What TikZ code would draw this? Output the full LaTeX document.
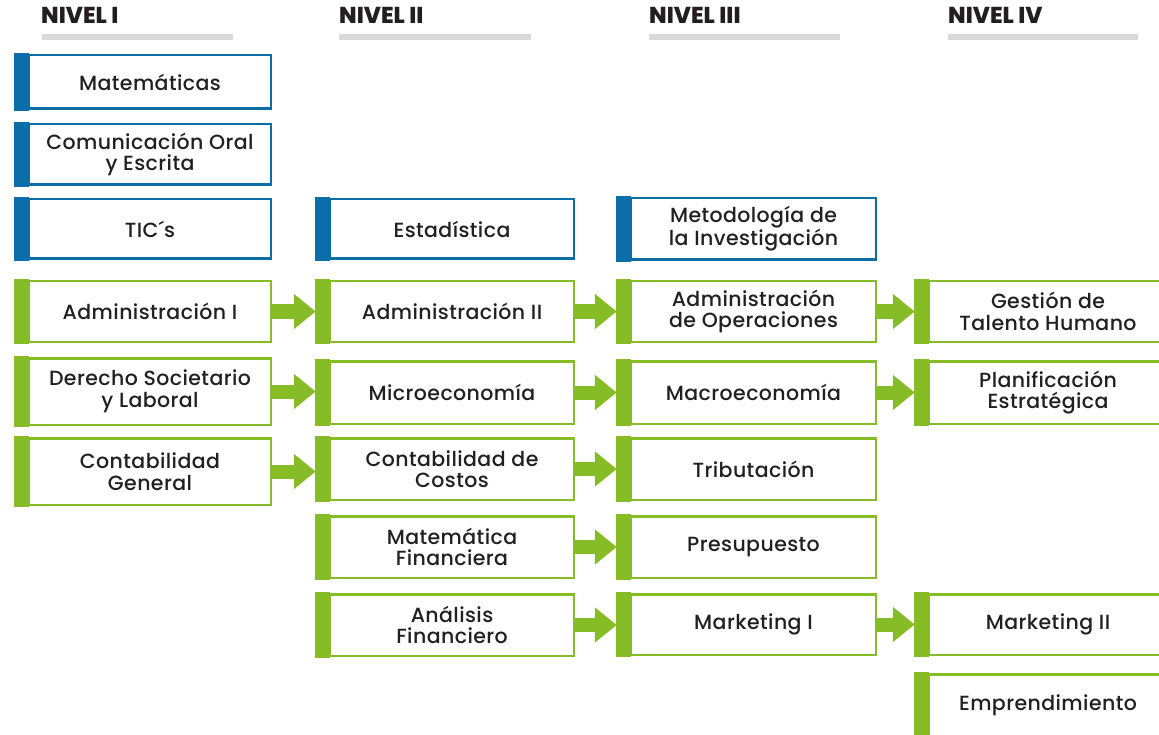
\documentclass[tikz,border=0pt]{standalone}
\usepackage{fontspec}
\setmainfont{Poppins Medium}[LetterSpace=2]
\newfontfamily\hdrfont{Poppins ExtraBold}
\usetikzlibrary{arrows.meta,calc}
\definecolor{cblue}{HTML}{0A6FA8}
\definecolor{cgreen}{HTML}{86BC25}
\definecolor{cgray}{HTML}{D9D9D9}
\definecolor{ctext}{HTML}{231F20}
\begin{document}
\begin{tikzpicture}[x=1pt,y=-1pt,
  subj/.style={draw, line width=2.5pt, fill=white, align=center, inner sep=0pt,
    text=ctext, font=\fontsize{20.5}{21.5}\selectfont},
  bsubj/.style={subj, draw=cblue},
  gsubj/.style={subj, draw=cgreen},
  c1/.style={minimum width=242pt},
  c2/.style={minimum width=244pt},
  c3/.style={minimum width=245pt},
  c4/.style={minimum width=238pt},
  hdr/.style={anchor=base west, inner sep=0pt, text=ctext, font=\hdrfont\fontsize{23}{24}\selectfont},
  garrow/.style={draw=cgreen, line width=14pt, -{Triangle[width=34pt,length=22pt]}}
]
\useasboundingbox (0,0) rectangle (1159,735);
\clip (0,0) rectangle (1159,735);
% headers
\node[hdr] (h1) at (41,24) {NIVEL I};
\node[hdr] (h2) at (339,24) {NIVEL II};
\node[hdr] (h3) at (649,24) {NIVEL III};
\node[hdr] (h4) at (948,24) {NIVEL IV};
\fill[cgray] (42,34) rectangle (233,40);
\fill[cgray] (339,34) rectangle (531,40);
\fill[cgray] (649,34) rectangle (840,40);
\fill[cgray] (948,34) rectangle (1138,40);
% column 1
\node[bsubj,c1,minimum height=53.5pt] (mat) at (150,82) {Matemáticas};
\node[bsubj,c1,minimum height=60.5pt] (com) at (150,154.5) {Comunicación Oral\\y Escrita};
\node[bsubj,c1,minimum height=59.5pt] (tic) at (150,229) {TIC´s};
\node[gsubj,c1,minimum height=60.5pt] (adm1) at (150,311.5) {Administración I};
\node[gsubj,c1,minimum height=66.5pt] (der) at (150,391.5) {Derecho Societario\\y Laboral};
\node[gsubj,c1,minimum height=66.5pt] (cg) at (150,471.5) {Contabilidad\\General};
% column 2
\node[bsubj,c2,minimum height=59.5pt] (est) at (452,229) {Estadística};
\node[gsubj,c2,minimum height=60.5pt] (adm2) at (452,311.5) {Administración II};
\node[gsubj,c2,minimum height=62.5pt] (mic) at (452,392.5) {Microeconomía};
\node[gsubj,c2,minimum height=61.5pt] (cc) at (452,469) {Contabilidad de\\Costos};
\node[gsubj,c2,minimum height=61.5pt] (mf) at (452,547) {Matemática\\Financiera};
\node[gsubj,c2,minimum height=61.5pt] (af) at (452,625) {Análisis\\Financiero};
% column 3
\node[bsubj,c3,minimum height=61.5pt] (met) at (753.5,229) {Metodología de\\la Investigación};
\node[gsubj,c3,minimum height=60.5pt] (ops) at (753.5,311.5) {Administración\\de Operaciones};
\node[gsubj,c3,minimum height=62.5pt] (mac) at (753.5,392.5) {Macroeconomía};
\node[gsubj,c3,minimum height=61.5pt] (tri) at (753.5,469) {Tributación};
\node[gsubj,c3,minimum height=61.5pt] (pre) at (753.5,547) {Presupuesto};
\node[gsubj,c3,minimum height=60.5pt] (mk1) at (753.5,624.5) {Marketing I};
% column 4
\node[gsubj,c4,minimum height=60.5pt] (gth) at (1048,311.5) {Gestión de\\Talento Humano};
\node[gsubj,c4,minimum height=62.5pt] (pla) at (1048,392.5) {Planificación\\Estratégica};
\node[gsubj,c4,minimum height=60.5pt] (mk2) at (1048,624.5) {Marketing II};
\node[gsubj,c4,minimum height=61.5pt] (emp) at (1048,705) {Emprendimiento};
% side bars
\foreach \n in {mat,com,tic,est,met}
  \fill[cblue] ([xshift=-14pt,yshift=1.25pt]\n.north west) rectangle ([xshift=1.25pt,yshift=-1.25pt]\n.south west);
\foreach \n in {adm1,der,cg,adm2,mic,cc,mf,af,ops,mac,tri,pre,mk1,gth,pla,mk2,emp}
  \fill[cgreen] ([xshift=-14pt,yshift=1.25pt]\n.north west) rectangle ([xshift=1.25pt,yshift=-1.25pt]\n.south west);
% arrows
\foreach \a/\b in {adm1/adm2,adm2/ops,ops/gth,der/mic,mic/mac,mac/pla,cg/cc,cc/tri,mf/pre,af/mk1,mk1/mk2}
  \draw[garrow] (\a.east) -- ($(\b.west |- \a.east)+(-13,0)$);
\end{tikzpicture}
\end{document}
